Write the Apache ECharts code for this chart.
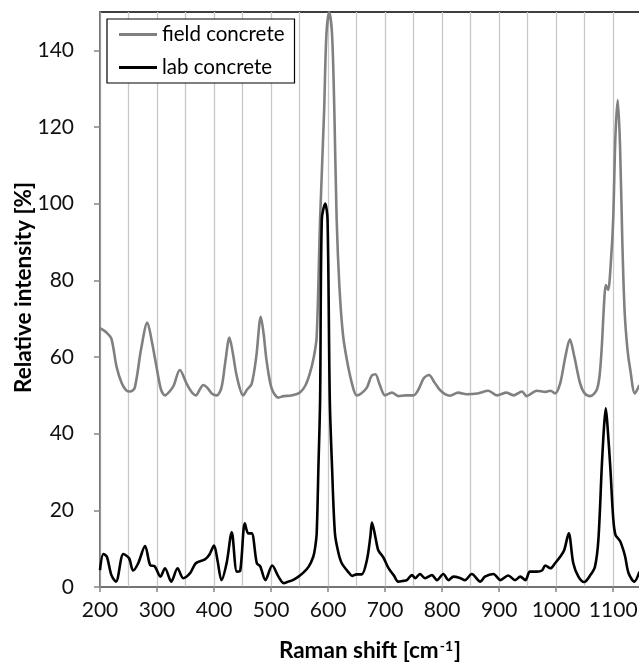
<!DOCTYPE html>
<html>
<head>
<meta charset="utf-8">
<script src="https://cdn.jsdelivr.net/npm/echarts@6/dist/echarts.min.js"></script>
<style>html,body{margin:0;padding:0;background:#fff}#c{width:639px;height:662px}</style>
</head>
<body>
<div id="c"></div>
<script>
const seriesNames = ['field concrete', 'lab concrete'];
const xTicks = [200, 300, 400, 500, 600, 700, 800, 900, 1000, 1100];
const yTicks = [0, 20, 40, 60, 80, 100, 120, 140];

const fieldShift = [200,206,212,220,229,238,246,253,261,272,283,291,299,307,314,322,329,340,352,360,368,375,381,388,396,405,413,420,427,433,440,451,458,466,474,482,487,492,501,513,522,533,542,551,560,568,575,580,586,593,597,602,607,611,615,620,626,633,642,650,658,668,676,683,690,700,712,723,736,750,758,768,777,786,796,805,814,828,843,862,881,896,913,925,940,948,966,981,990,998,1007,1016,1024,1032,1042,1050,1060,1071,1076,1080,1084,1087,1091,1096,1100,1104,1108,1112,1116,1120,1125,1130,1138,1146];
const fieldIntensity = [67.5,67.0,66.3,64.8,57.5,53.2,51.3,51.0,52.0,62,69,64,57.5,51.5,50.0,51.0,52.5,56.6,53,51,50,51.5,52.7,52,50.5,50,52,59,65.1,61,54.9,50,51.5,53,60,70.5,66,59.2,51.8,49.4,49.8,49.9,50.2,50.8,52.5,55.7,60,65.3,96,124,144,150,144,124,96,78,66,59.2,53,50,50.5,52,55,55.5,53,50,50.7,49.8,50,50,51.4,54.5,55.3,53.5,51.4,50.3,49.9,50.7,50.3,50.5,51.2,50,50.7,50,51,49.8,51.2,50.9,51.2,50.5,53.1,60,64.6,60,53.1,50.5,49.8,51.4,55,62.7,74,78.8,77.5,85,96,118,127,115,90,72,62,56.6,50.5,52.7];

const labShift = [200,206,212,220,228,241,251,258,267,279,288,296,306,314,325,336,346,358,368,384,392,400,406,413,422,431,440,446,454,460,466,475,481,490,502,513,522,530,538,548,557,566,574,577,580,583,586,589,595,599,603,607,612,618,624,636,642,650,659,668,674,677,683,688,697,706,715,723,732,738,747,753,761,770,782,791,802,811,820,832,840,852,867,875,890,902,916,928,937,946,954,966,975,981,990,998,1007,1014,1022,1030,1039,1049,1060,1068,1074,1080,1084,1087,1090,1095,1100,1104,1112,1117,1121,1127,1137,1146];
const labIntensity = [4.4,8.6,7.9,3.1,1.4,8.6,7.5,4.3,6.2,10.7,5.7,5.4,2.7,4.9,1.4,4.9,2.3,3.6,6.2,7.2,8.5,10.8,7,1.8,6.2,14.3,4,4.3,16.6,14,14,6.2,5.4,1.8,5.6,2.7,1,1.4,1.8,2.7,3.8,5.3,7.9,10,14,31,49,96,100,96,49,31,14,9,6.2,3.8,2.9,3.3,3.3,7,13,16.8,13,9.6,7.7,4.9,3.1,1.4,1.6,1.8,3.1,2.3,3.4,2.3,3.1,1.8,3.4,1.8,2.7,2.3,1.8,3.4,1.4,2.7,3.4,1.8,3,1.8,2.7,1.8,4,4,4.3,5.6,4.9,6.2,7.9,9.6,14,6.2,2.7,1.3,3.1,5.3,12.3,31.4,42,46.6,42,31,18,13.6,12,10,7.9,3.6,1.4,4];

const pair = (xs, ys) => xs.map((x, i) => [x, ys[i]]);
const FONT = 'Lato';

const chart = echarts.init(document.getElementById('c'), null, {renderer: 'canvas'});
chart.setOption({
  animation: false,
  backgroundColor: '#fff',
  textStyle: {fontFamily: FONT},
  grid: {left: 100, top: 12, right: -1, bottom: 75, containLabel: false, outerBoundsMode: 'none',
    show: true, borderColor: '#000', borderWidth: 1.5, backgroundColor: 'transparent'},
  legend: {
    show: true, orient: 'vertical', left: 107, top: 19,
    data: seriesNames,
    icon: 'rect',
    borderColor: '#000', borderWidth: 1.2, padding: [5, 10, 5, 12],
    itemWidth: 38, itemHeight: 3, itemGap: 12,
    textStyle: {fontFamily: FONT, fontSize: 20.5, lineHeight: 21, color: '#000'},
    backgroundColor: '#fff'
  },
  xAxis: [{
    type: 'value', min: 200, max: 1147, interval: 50,
    axisLine: {show: true, lineStyle: {color: '#858585', width: 1.5}},
    axisTick: {show: false},
    splitLine: {show: true, lineStyle: {color: '#c8c8c8', width: 1.3}},
    axisLabel: {
      fontFamily: FONT, fontSize: 21, color: '#111', margin: 13,
      showMaxLabel: false,
      formatter: v => (xTicks.indexOf(v) >= 0 ? String(v) : '')
    },
    name: '{a|Raman shift [cm}{s|-1}{a|]}',
    nameLocation: 'middle', nameGap: 52, nameMoveOverlap: false,
    nameTextStyle: {
      rich: {
        a: {fontFamily: FONT, fontSize: 22.5, fontWeight: 'bold', color: '#000'},
        s: {fontFamily: FONT, fontSize: 14, fontWeight: 'bold', color: '#000', verticalAlign: 'top', padding: [0, 1, 10, 1]}
      }
    }
  }, {
    type: 'value', min: 200, max: 1147, interval: 100, position: 'bottom',
    axisLine: {show: false}, axisTick: {show: true, length: 5, lineStyle: {color: '#858585', width: 1.5}},
    axisLabel: {show: false}, splitLine: {show: false}
  }],
  yAxis: {
    type: 'value', min: 0, max: 150, interval: 20,
    axisLine: {show: true, lineStyle: {color: '#858585', width: 1.5}},
    axisTick: {show: true, length: 6, lineStyle: {color: '#858585', width: 1.5}},
    splitLine: {show: false},
    axisLabel: {
      fontFamily: FONT, fontSize: 21, color: '#111', margin: 26,
      showMaxLabel: false,
      formatter: v => (yTicks.indexOf(v) >= 0 ? String(v) : '')
    },
    name: 'Relative intensity [%]', nameLocation: 'middle', nameGap: 65, nameMoveOverlap: false,
    nameTextStyle: {fontFamily: FONT, fontSize: 22.5, fontWeight: 'bold', color: '#000', padding: [0, 0, 0, 24]}
  },
  series: [{
    name: seriesNames[0], type: 'line', xAxisIndex: 0,
    data: pair(fieldShift, fieldIntensity),
    symbol: 'none', smooth: 0.3, clip: true,
    lineStyle: {color: '#808080', width: 2.6}, itemStyle: {color: '#808080'}, z: 2
  }, {
    name: seriesNames[1], type: 'line', xAxisIndex: 0,
    data: pair(labShift, labIntensity),
    symbol: 'none', smooth: 0.3, clip: true,
    lineStyle: {color: '#000', width: 2.6}, itemStyle: {color: '#000'}, z: 3
  }]
});
</script>
</body>
</html>
